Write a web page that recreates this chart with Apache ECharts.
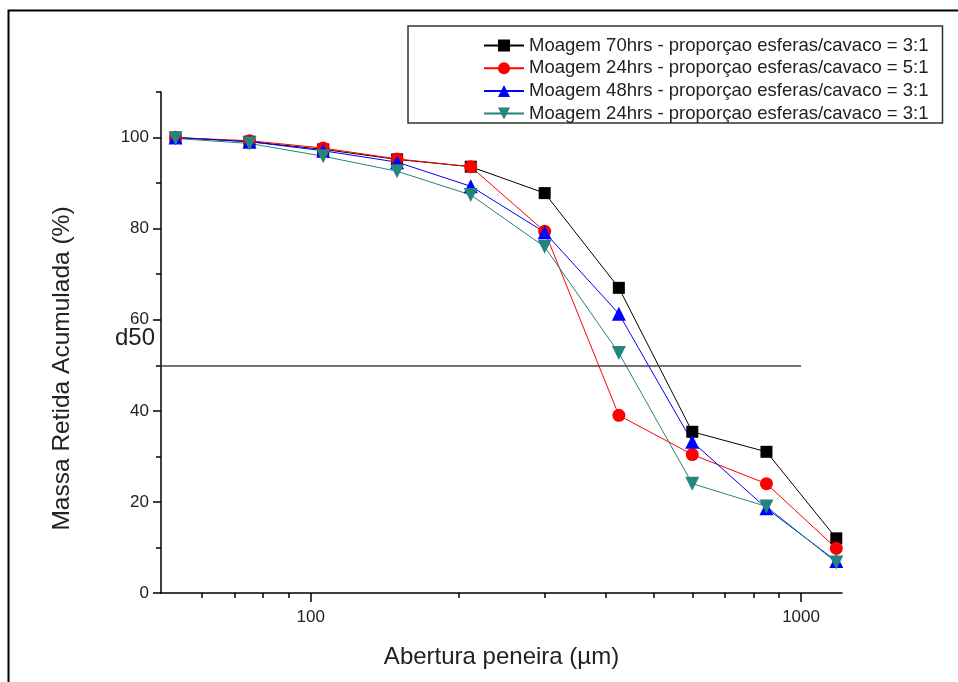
<!DOCTYPE html>
<html>
<head>
<meta charset="utf-8">
<script src="https://cdn.jsdelivr.net/npm/echarts@6/dist/echarts.min.js"></script>
<style>
  html, body { margin: 0; padding: 0; background: #fff; }
  #chart { width: 958px; height: 682px; }
</style>
</head>
<body>
<div id="chart"></div>
<script>
var chart = echarts.init(document.getElementById('chart'));

// abertura das peneiras (um)
var sieves = [53, 75, 106, 150, 212, 300, 425, 600, 850, 1180];
var names = [
    'Moagem 70hrs - proporçao esferas/cavaco = 3:1',
    'Moagem 24hrs - proporçao esferas/cavaco = 5:1',
    'Moagem 48hrs - proporçao esferas/cavaco = 3:1',
    'Moagem 24hrs - proporçao esferas/cavaco = 3:1'
];
var m70_31 = [100, 99.1, 97.4, 95.2, 93.6, 87.8, 67.0, 35.4, 31.0, 12.0];
var m24_51 = [100, 99.3, 97.7, 95.3, 93.6, 79.4, 39.0, 30.4, 24.0, 9.8];
var m48_31 = [100, 99.1, 97.1, 94.6, 89.3, 79.2, 61.3, 33.2, 18.6, 7.0];
var m24_31 = [99.8, 98.7, 95.9, 92.6, 87.4, 76.0, 52.7, 24.0, 19.0, 6.7];

var xLabels = [100, 1000];
var xMinor = [60, 70, 80, 90, 200, 300, 400, 500, 600, 700, 800, 900];
var yLabels = [0, 20, 40, 60, 80, 100];
var yMinor = [10, 30, 50, 70, 90, 110];
var d50 = 50;

var font = 'Liberation Sans, Arial, sans-serif';
var xMin = 49.5, xMax = 1212;

function pairs(vals) {
    var out = [];
    for (var i = 0; i < sieves.length; i++) {
        out.push([sieves[i], vals[i]]);
    }
    return out;
}

function line(name, vals, color, symbol, size, rotate) {
    return {
        name: name,
        type: 'line',
        data: pairs(vals),
        symbol: symbol,
        symbolSize: size,
        symbolRotate: rotate || 0,
        showAllSymbol: true,
        xAxisIndex: 0,
        yAxisIndex: 0,
        itemStyle: { color: color },
        lineStyle: { color: color, width: 1 },
        emphasis: { disabled: true },
        animation: false
    };
}

var series = [
    line(names[0], m70_31, '#000000', 'rect', 12),
    line(names[1], m24_51, '#ff0000', 'circle', 13),
    line(names[2], m48_31, '#0000ff', 'triangle', 14),
    line(names[3], m24_31, '#24847e', 'triangle', 14, 180)
];

series[0].markLine = {
    silent: true,
    symbol: 'none',
    animation: false,
    lineStyle: { color: '#444', width: 1.5, type: 'solid' },
    label: {
        show: true,
        position: 'start',
        formatter: 'd50',
        fontFamily: font,
        fontSize: 24,
        color: '#222',
        offset: [-1, -27]
    },
    data: [[{ coord: [xMin, d50] }, { coord: [1000, d50] }]]
};

var option = {
    backgroundColor: '#fff',
    animation: false,
    graphic: [{
        type: 'rect',
        shape: { x: 8.5, y: 10.5, width: 1000, height: 1000 },
        style: { fill: 'none', stroke: '#000', lineWidth: 2 },
        z: -10
    }],
    grid: { left: 161, right: 116, top: 92, bottom: 89 },
    legend: {
        orient: 'vertical',
        left: 408,
        top: 26,
        padding: [10, 14, 0, 75],
        itemWidth: 40,
        itemHeight: 15,
        itemGap: 3.7,
        backgroundColor: '#fff',
        borderColor: '#333',
        borderWidth: 1.5,
        borderRadius: 0,
        textStyle: { fontFamily: font, fontSize: 18.5, color: '#222', lineHeight: 18 },
        data: names
    },
    xAxis: [{
        type: 'log',
        min: xMin,
        max: xMax,
        logBase: 10,
        name: 'Abertura peneira (µm)',
        nameLocation: 'middle',
        nameGap: 52,
        nameTextStyle: { fontFamily: font, fontSize: 24, color: '#222' },
        axisLine: { show: true, lineStyle: { color: '#000', width: 1.5 } },
        axisTick: { show: true, inside: false, length: 9, customValues: xLabels, lineStyle: { color: '#000', width: 1.5 } },
        axisLabel: {
            show: true,
            customValues: xLabels,
            formatter: function (v) { return String(Math.round(v)); },
            fontFamily: font,
            fontSize: 17,
            color: '#222',
            margin: 16
        },
        splitLine: { show: false }
    }, {
        type: 'log',
        min: xMin,
        max: xMax,
        position: 'bottom',
        axisLine: { show: false },
        axisTick: { show: true, inside: false, length: 5, customValues: xMinor, lineStyle: { color: '#000', width: 1.5 } },
        axisLabel: { show: false },
        splitLine: { show: false }
    }],
    yAxis: [{
        type: 'value',
        min: 0,
        max: 110,
        name: 'Massa Retida Acumulada (%)',
        nameLocation: 'middle',
        nameGap: 86,
        nameTextStyle: { fontFamily: font, fontSize: 24.5, color: '#222', padding: [0, 52, 0, 0] },
        axisLine: { show: true, lineStyle: { color: '#000', width: 1.5 } },
        axisTick: { show: true, inside: false, length: 8, customValues: yLabels, lineStyle: { color: '#000', width: 1.5 } },
        axisLabel: { show: true, customValues: yLabels, fontFamily: font, fontSize: 17, color: '#222', margin: 12 },
        splitLine: { show: false }
    }, {
        type: 'value',
        min: 0,
        max: 110,
        position: 'left',
        offset: 0,
        axisLine: { show: false },
        axisTick: { show: true, inside: false, length: 5, customValues: yMinor, lineStyle: { color: '#000', width: 1.5 } },
        axisLabel: { show: false },
        splitLine: { show: false }
    }],
    series: series
};

chart.setOption(option);
</script>
</body>
</html>
